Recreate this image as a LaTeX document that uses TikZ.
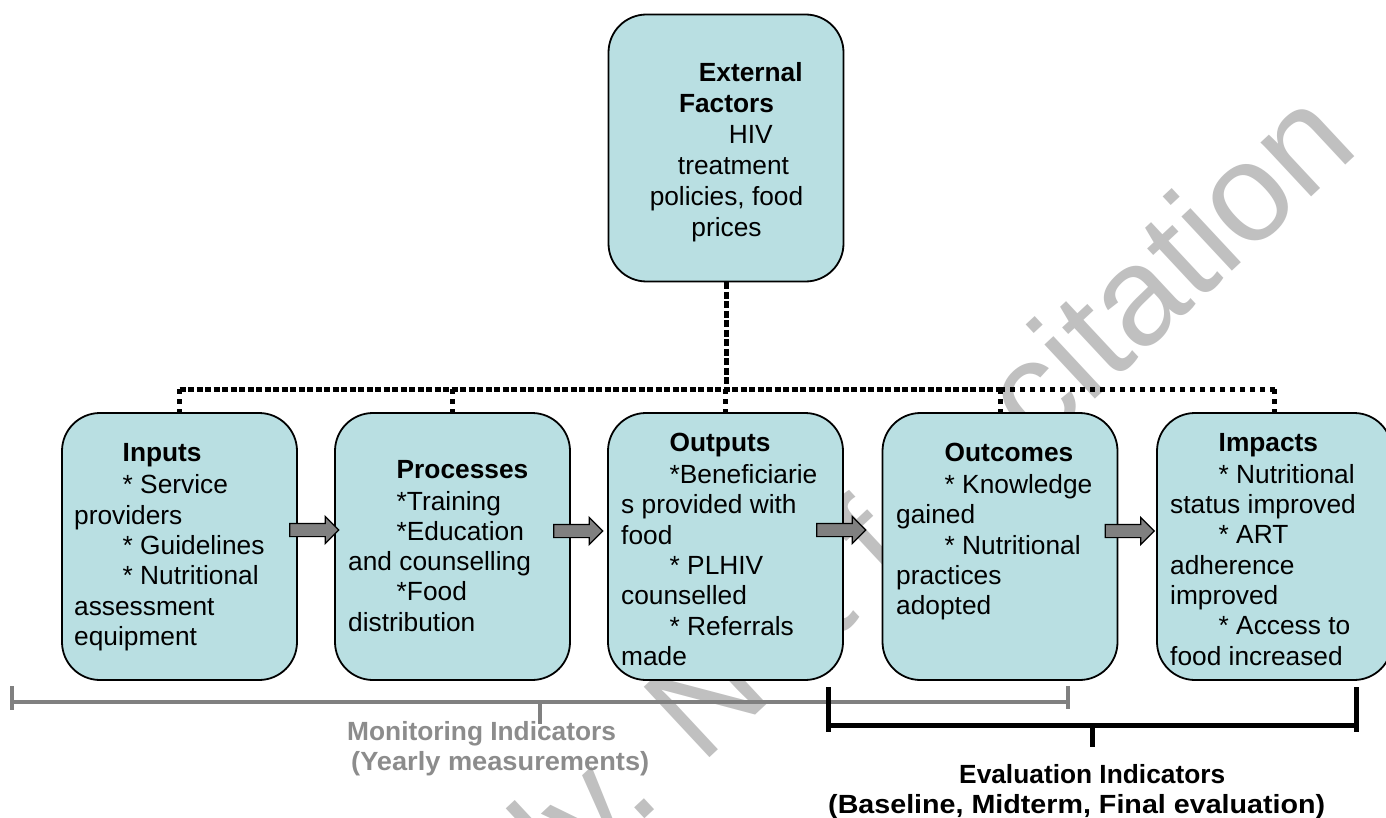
\documentclass[tikz,border=0pt]{standalone}
\usepackage{fontspec}
\usepackage{graphicx}
\setmainfont{Liberation Sans}
\usetikzlibrary{shapes.arrows}
\definecolor{boxfill}{RGB}{185,223,226}
\definecolor{arrowfill}{RGB}{128,128,128}
\definecolor{moncol}{RGB}{128,128,128}
\definecolor{montext}{RGB}{140,140,140}
\definecolor{wmgray}{RGB}{192,192,192}
\newcommand{\myind}{\hspace*{48.5pt}}
\begin{document}
\begin{tikzpicture}[x=1pt,y=-1pt,
  box/.style={draw=black, line width=1.8pt, fill=boxfill, rounded corners=38pt,
    minimum width=235pt, minimum height=267pt, inner sep=0pt},
  boxtext/.style={anchor=north west, inner sep=0pt, align=left,
    font=\fontsize{26.3}{30.3}\selectfont},
  blockarrow/.style={single arrow, draw=black, line width=1.2pt, fill=arrowfill,
    minimum height=49pt, inner xsep=0pt, inner ysep=6pt,
    single arrow head extend=7pt, single arrow head indent=0pt},
  densedash/.style={line width=5pt, dash pattern=on 7pt off 2.5pt},
  dotline/.style={line width=5pt, dash pattern=on 6pt off 2.5pt},
  sparsedot/.style={line width=5pt, dash pattern=on 5pt off 5pt},
  monbracket/.style={draw=moncol, line width=4pt},
  evalbracket/.style={draw=black, line width=5pt},
  labeltext/.style={inner sep=0pt, font=\fontsize{26.3}{29.5}\selectfont\bfseries}
]
\useasboundingbox (0,0) rectangle (1386,818);
\fill[white] (0,0) rectangle (1386,818);

% watermark
\node[rotate=43, anchor=base east, inner sep=0pt, text=wmgray,
  font=\fontsize{140}{140}\selectfont] (wm) at (1362,150) {Draft only. Not for citation};

% boxes
\node[box] (ext) at (726,148) {};
\node[box] (inp) at (179.5,546.5) {};
\node[box] (proc) at (452.5,546.5) {};
\node[box] (outp) at (725.5,546.5) {};
\node[box] (outc) at (1000,546.5) {};
\node[box] (imp) at (1274.5,546.5) {};

% box texts
\node[inner sep=0pt, anchor=north, align=center,
  font=\fontsize{26.3}{31}\selectfont] (extT) at (726.5,62)
  {\myind\textbf{External}\\ \textbf{Factors}\\ \myind HIV\\ \hspace*{14pt}treatment\\ policies, food\\ prices};
\node[boxtext] (inpT) at (74,443.3)
  {\myind\textbf{Inputs}\\[2pt] \myind* Service\\ providers\\ \myind* Guidelines\\ \myind* Nutritional\\ assessment\\ equipment};
\node[boxtext] (procT) at (348,460)
  {\myind\textbf{Processes}\\[1.5pt] \myind*Training\\ \myind*Education\\ and counselling\\ \myind*Food\\ distribution};
\node[boxtext] (outpT) at (621,433.3)
  {\myind\textbf{Outputs}\\[1.5pt] \myind*Beneficiarie\\ s provided with\\ food\\ \myind* PLHIV\\ counselled\\ \myind* Referrals\\ made};
\node[boxtext] (outcT) at (896,443.3)
  {\myind\textbf{Outcomes}\\[1.5pt] \myind* Knowledge\\ gained\\ \myind* Nutritional\\ practices\\ adopted};
\node[boxtext] (impT) at (1170,433.3)
  {\myind\textbf{Impacts}\\[1.5pt] \myind* Nutritional\\ status improved\\ \myind* ART\\ adherence\\ improved\\ \myind* Access to\\ food increased};

% dotted connectors
\coordinate (hub) at (726,389);
\draw[densedash] (ext.south) -- (hub);
\draw[dotline] (inp.north |- hub) -- (outc.north |- hub);
\draw[sparsedot] (outc.north |- hub) -- (imp.north |- hub);
\foreach \b in {inp,proc,outp,outc,imp}
  \draw[sparsedot] (\b.north |- hub) -- (\b.north);

% block arrows
\node[blockarrow] (a1) at (311,530) {};
\node[blockarrow] (a2) at (575,531) {};
\node[blockarrow] (a3) at (838,530) {};
\node[blockarrow] (a4) at (1126.5,531) {};

% monitoring bracket
\draw[monbracket] (12,686) -- (12,710);
\draw[monbracket] (12,702) -- (1068,702);
\draw[monbracket] (1068,686) -- (1068,709);
\draw[monbracket] (540,702) -- (540,724);
% evaluation bracket
\draw[evalbracket] (828,687) -- (828,732);
\draw[evalbracket] (828,725) -- (1356,725);
\draw[evalbracket] (1356,687) -- (1356,732);
\draw[evalbracket] (1092,725) -- (1092,747);

% labels
\node[labeltext, text=montext, anchor=north west, align=left] (mon) at (347,721.5)
  {Monitoring Indicators\\ \hspace*{4pt}\scalebox{1.035}[1]{(Yearly measurements)}};
\node[labeltext, anchor=north west, align=left, font=\fontsize{26.3}{30}\selectfont\bfseries] (eval) at (828,764.5)
  {\hspace*{131pt}Evaluation Indicators\\ \scalebox{1.09}[1]{(Baseline, Midterm, Final evaluation)}};
\end{tikzpicture}
\end{document}
